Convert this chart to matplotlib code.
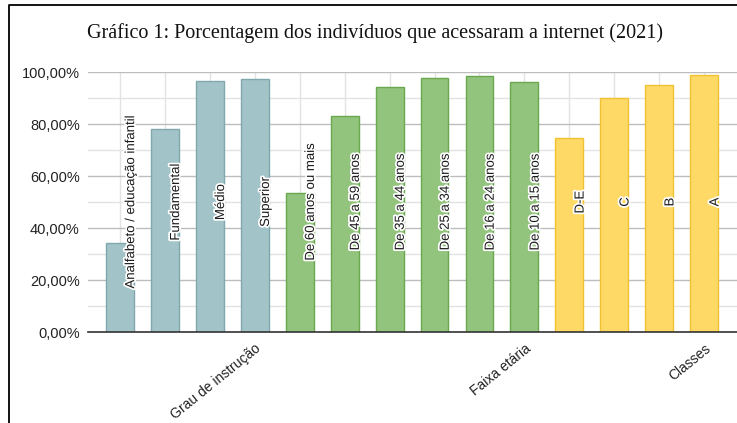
import matplotlib
matplotlib.use("Agg")
import matplotlib.pyplot as plt
import matplotlib.patheffects as pe
from matplotlib.lines import Line2D
from matplotlib.ticker import FuncFormatter, MultipleLocator

title = "Gráfico 1: Porcentagem dos indivíduos que acessaram a internet (2021)"

bar_labels = [
    "Analfabeto / educação infantil", "Fundamental", "Médio", "Superior",
    "De 60 anos ou mais", "De 45 a 59 anos", "De 35 a 44 anos", "De 25 a 34 anos",
    "De 16 a 24 anos", "De 10 a 15 anos",
    "D-E", "C", "B", "A",
]
values = [34.1, 78.1, 96.5, 97.4,
          53.3, 83.1, 94.3, 97.6, 98.5, 96.3,
          74.7, 89.9, 95.0, 98.7]
groups = ["Grau de instrução"] * 4 + ["Faixa etária"] * 6 + ["Classes"] * 4
group_names = ["Grau de instrução", "Faixa etária", "Classes"]
group_colors = {"Grau de instrução": ("#A2C4C9", "#7FA8AE"),
                "Faixa etária": ("#93C47D", "#6AA84F"),
                "Classes": ("#FFD966", "#F1C232")}
yticks = [0, 20, 40, 60, 80, 100]

plt.rcParams['font.family'] = ['Liberation Sans', 'DejaVu Sans']

fig = plt.figure(figsize=(7.37, 4.23), dpi=100)
ax = fig.add_axes([88/737, (423-332)/423, 1 - 88/737, (332-72)/423])

x = list(range(len(values)))
face = [group_colors[g][0] for g in groups]
edge = [group_colors[g][1] for g in groups]
ax.bar(x, values, width=0.62, color=face, edgecolor=edge, linewidth=1.0, zorder=3)

# bar labels, rotated, with white halo
for xi, lab in zip(x, bar_labels):
    ax.text(xi + 0.25, 50, lab, rotation=90, ha='center', va='center',
            fontsize=9.5, color='#1a1a1a', zorder=5,
            path_effects=[pe.withStroke(linewidth=2.5, foreground='white')])

ax.set_xlim(-0.71, len(values) - 1 + 0.73)
ax.set_ylim(0, 100)

# gridlines
ax.yaxis.set_minor_locator(MultipleLocator(10))
ax.set_yticks(yticks)
ax.yaxis.set_major_formatter(FuncFormatter(lambda v, p: f"{v:.2f}".replace('.', ',') + "%"))
ax.grid(axis='y', which='major', color='#bdbdbd', linewidth=1.0, zorder=0)
ax.grid(axis='y', which='minor', color='#e3e3e3', linewidth=1.0, zorder=0)
for xi in x:
    ax.axvline(xi, color='#e3e3e3', linewidth=1.0, zorder=1)
ax.tick_params(axis='y', which='both', length=0, labelsize=10.5, pad=6, colors='#222222')

# group labels at the last bar of each group
last_idx = [max(i for i, g in enumerate(groups) if g == name) for name in group_names]
ax.set_xticks(last_idx)
ax.set_xticklabels(group_names, rotation=39, ha='right', rotation_mode='anchor',
                   fontsize=10, color='#222222')
ax.tick_params(axis='x', length=0, pad=7)

for s in ['top', 'right', 'left']:
    ax.spines[s].set_visible(False)
ax.spines['bottom'].set_color('#333333')
ax.spines['bottom'].set_linewidth(1.2)
ax.spines['bottom'].set_zorder(4)

# title
fig.text(375.5/737, 1 - 33/423, title, ha='center', va='center',
         fontsize=14.5, family=['Liberation Serif', 'DejaVu Serif'], color='#111111')

# frame (left and top border of the screenshot)
fig.add_artist(Line2D([9/737, 9/737, 1.0], [0.0, 1 - 5/423, 1 - 5/423],
                      transform=fig.transFigure, color='black', linewidth=1.3))

fig.savefig("out.png", dpi=100)
